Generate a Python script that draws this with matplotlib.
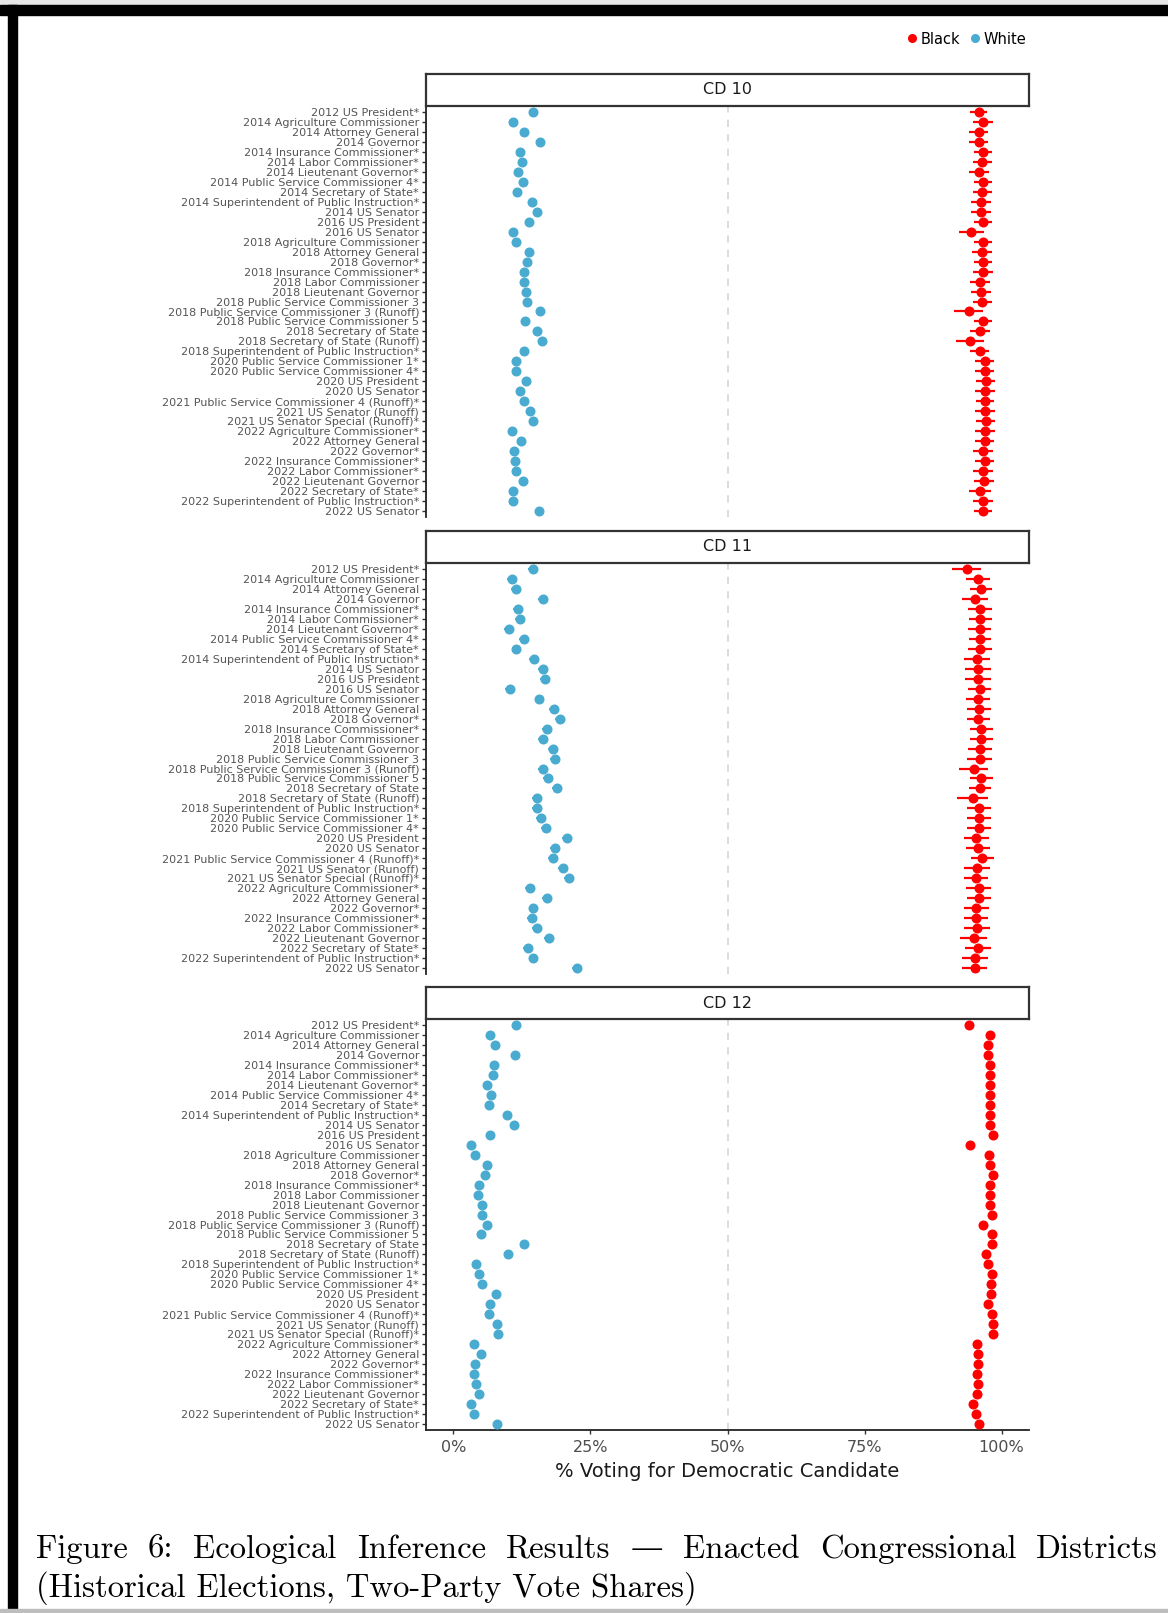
"""Ecological inference results by congressional district (CD 10, 11, 12)."""

import matplotlib

matplotlib.use("Agg")
import matplotlib.pyplot as plt
from matplotlib.lines import Line2D
from matplotlib.patches import Rectangle

W, H = 1168, 1613

elections = [
    "2012 US President*",
    "2014 Agriculture Commissioner",
    "2014 Attorney General",
    "2014 Governor",
    "2014 Insurance Commissioner*",
    "2014 Labor Commissioner*",
    "2014 Lieutenant Governor*",
    "2014 Public Service Commissioner 4*",
    "2014 Secretary of State*",
    "2014 Superintendent of Public Instruction*",
    "2014 US Senator",
    "2016 US President",
    "2016 US Senator",
    "2018 Agriculture Commissioner",
    "2018 Attorney General",
    "2018 Governor*",
    "2018 Insurance Commissioner*",
    "2018 Labor Commissioner",
    "2018 Lieutenant Governor",
    "2018 Public Service Commissioner 3",
    "2018 Public Service Commissioner 3 (Runoff)",
    "2018 Public Service Commissioner 5",
    "2018 Secretary of State",
    "2018 Secretary of State (Runoff)",
    "2018 Superintendent of Public Instruction*",
    "2020 Public Service Commissioner 1*",
    "2020 Public Service Commissioner 4*",
    "2020 US President",
    "2020 US Senator",
    "2021 Public Service Commissioner 4 (Runoff)*",
    "2021 US Senator (Runoff)",
    "2021 US Senator Special (Runoff)*",
    "2022 Agriculture Commissioner*",
    "2022 Attorney General",
    "2022 Governor*",
    "2022 Insurance Commissioner*",
    "2022 Labor Commissioner*",
    "2022 Lieutenant Governor",
    "2022 Secretary of State*",
    "2022 Superintendent of Public Instruction*",
    "2022 US Senator",
]

districts = ["CD 10", "CD 11", "CD 12"]

# % voting for the Democratic candidate, White voters
white_cd10 = [14.5, 10.8, 12.9, 15.8, 12.1, 12.6, 11.7, 12.7, 11.6, 14.3, 15.3, 13.7, 10.9, 11.4,
              13.7, 13.5, 12.9, 12.8, 13.3, 13.4, 15.8, 13.1, 15.2, 16.2, 12.9, 11.4, 11.5, 13.3,
              12.2, 12.8, 13.9, 14.6, 10.6, 12.3, 11.1, 11.2, 11.4, 12.7, 10.9, 10.8, 15.6]
white_cd11 = [14.5, 10.6, 11.4, 16.4, 11.8, 12.1, 10.2, 12.8, 11.5, 14.7, 16.3, 16.7, 10.4, 15.7,
              18.4, 19.4, 17.1, 16.3, 18.1, 18.5, 16.4, 17.3, 18.9, 15.2, 15.2, 16.0, 16.8, 20.8,
              18.5, 18.1, 20.0, 21.1, 14.0, 17.0, 14.6, 14.3, 15.2, 17.5, 13.6, 14.6, 22.6]
white_cd12 = [11.4, 6.7, 7.6, 11.2, 7.4, 7.2, 6.1, 6.9, 6.5, 9.7, 11.0, 6.6, 3.2, 4.0,
              6.1, 5.7, 4.6, 4.5, 5.3, 5.2, 6.1, 5.1, 12.9, 10.0, 4.1, 4.7, 5.2, 7.8,
              6.6, 6.5, 8.0, 8.2, 3.8, 5.0, 4.0, 3.8, 4.2, 4.7, 3.3, 3.8, 8.0]

# % voting for the Democratic candidate, Black voters
black_cd10 = [95.8, 96.6, 95.8, 95.8, 96.6, 96.5, 95.9, 96.6, 96.5, 96.2, 96.3, 96.6, 94.5, 96.6,
              96.4, 96.6, 96.6, 96.0, 96.2, 96.5, 94.0, 96.6, 96.0, 94.2, 96.0, 96.9, 96.9, 97.1,
              97.0, 97.0, 97.0, 97.1, 97.0, 96.9, 96.6, 96.9, 96.6, 96.8, 96.0, 96.6, 96.6]
black_cd11 = [93.6, 95.7, 96.3, 95.1, 96.1, 96.1, 96.0, 96.0, 96.0, 95.5, 95.7, 95.7, 96.0, 95.7,
              95.8, 95.7, 96.3, 96.3, 96.0, 96.0, 94.9, 96.3, 96.0, 94.7, 95.8, 95.8, 95.8, 95.4,
              95.7, 96.5, 95.5, 95.4, 95.8, 95.8, 95.4, 95.4, 95.5, 94.9, 95.7, 95.1, 95.1]
black_cd12 = [94.0, 97.8, 97.6, 97.5, 97.8, 97.8, 97.9, 97.9, 97.8, 97.9, 97.9, 98.4, 94.2, 97.7,
              97.8, 98.5, 97.9, 97.8, 97.8, 98.3, 96.6, 98.2, 98.2, 97.2, 97.6, 98.2, 98.1, 98.1,
              97.5, 98.3, 98.4, 98.4, 95.5, 95.7, 95.7, 95.6, 95.7, 95.5, 94.8, 95.4, 95.8]

# half-width of the interval around each Black estimate
black_err_cd10 = [1.6, 1.8, 1.8, 1.8, 1.7, 1.8, 1.8, 1.7, 1.8, 1.8, 1.8, 1.7, 2.2, 1.7,
                  1.8, 1.7, 1.8, 1.8, 1.8, 1.8, 2.6, 1.7, 1.8, 2.6, 1.7, 1.7, 1.7, 1.7,
                  1.8, 1.7, 1.8, 1.7, 1.8, 1.8, 1.8, 1.8, 1.8, 1.8, 2.0, 1.8, 1.7]
black_err_cd11 = [2.6, 2.2, 2.0, 2.4, 2.2, 2.1, 2.1, 2.0, 2.2, 2.3, 2.3, 2.3, 2.1, 2.2,
                  2.2, 2.1, 2.1, 2.1, 2.2, 2.3, 2.6, 2.1, 2.0, 2.8, 2.2, 2.2, 2.2, 2.3,
                  2.2, 2.1, 2.3, 2.2, 2.3, 2.2, 2.3, 2.2, 2.3, 2.4, 2.3, 2.4, 2.3]
black_err_cd12 = [0.4] * 41
white_err = [0.5, 0.9, 0.4]

caption_line1 = "Figure 6:  Ecological Inference Results \u2014 Enacted Congressional Districts"
caption_line2 = "(Historical Elections, Two-Party Vote Shares)"

white_by_cd = [white_cd10, white_cd11, white_cd12]
black_by_cd = [black_cd10, black_cd11, black_cd12]
black_err_by_cd = [black_err_cd10, black_err_cd11, black_err_cd12]

WHITE_COL = "#4AABD0"
BLACK_COL = "#FF0000"


def rect(x0, y0, x1, y1):
    """Pixel box (top-left origin) to figure fraction."""
    return [x0 / W, 1 - y1 / H, (x1 - x0) / W, (y1 - y0) / H]


fig = plt.figure(figsize=(W / 100, H / 100), dpi=100)
fig.patch.set_facecolor("white")

# page frame of the screenshot
fig.patches.append(Rectangle((0, 1 - 5 / H), 1, 5 / H, transform=fig.transFigure,
                             color="#e6e6e6", zorder=0))
fig.patches.append(Rectangle((0, 1 - 15 / H), 1, 10 / H, transform=fig.transFigure,
                             color="black", zorder=1))
fig.patches.append(Rectangle((8 / W, 0), 9 / W, 1 - 5 / H, transform=fig.transFigure,
                             color="black", zorder=1))
fig.patches.append(Rectangle((0, 0), 1, 4 / H, transform=fig.transFigure,
                             color="#bdbdbd", zorder=1))

x0, x1 = 426, 1029
strip_tops = [74, 531, 987]
strip_h = 32
panel_h = 411
ypos = list(range(len(elections)))

for k, cd in enumerate(districts):
    top = strip_tops[k] + strip_h
    ax = fig.add_axes(rect(x0, top, x1, top + panel_h))
    ax.axvline(50, color="#d9d9d9", lw=1.3, ls=(0, (4, 4)), zorder=1)
    ax.errorbar(white_by_cd[k], ypos, xerr=white_err[k], fmt="o", color=WHITE_COL,
                ms=6.2, lw=1.6, capsize=0, zorder=3)
    ax.errorbar(black_by_cd[k], ypos, xerr=black_err_by_cd[k], fmt="o", color=BLACK_COL,
                ms=6.2, lw=1.6, capsize=0, zorder=3)
    ax.set_xlim(-5, 105)
    ax.set_ylim(len(elections) - 0.4, -0.6)
    ax.set_yticks(ypos)
    ax.set_yticklabels(elections, fontsize=8.0, color="#555555", family="DejaVu Sans")
    ax.tick_params(axis="y", length=3, width=1, color="#333333", pad=2)
    for s in ["top", "right"]:
        ax.spines[s].set_visible(False)
    ax.spines["left"].set_linewidth(1.3)
    ax.spines["left"].set_color("#222222")
    if k < 2:
        ax.spines["bottom"].set_visible(False)
        ax.set_xticks([])
    else:
        ax.spines["bottom"].set_linewidth(1.3)
        ax.spines["bottom"].set_color("#222222")
        ax.set_xticks([0, 25, 50, 75, 100])
        ax.set_xticklabels(["0%", "25%", "50%", "75%", "100%"], fontsize=11.5,
                           color="#4d4d4d")
        ax.tick_params(axis="x", length=3, width=1, color="#333333", pad=4)
        ax.set_xlabel("% Voting for Democratic Candidate", fontsize=14, color="#1a1a1a",
                      labelpad=5)

    # facet strip
    sax = fig.add_axes(rect(x0, strip_tops[k], x1, top))
    sax.set_xticks([])
    sax.set_yticks([])
    for s in sax.spines.values():
        s.set_linewidth(1.6)
        s.set_color("#333333")
    sax.text(0.5, 0.5, cd, ha="center", va="center", fontsize=11.5, color="#1a1a1a",
             transform=sax.transAxes)

handles = [
    Line2D([], [], marker="o", ls="", color=BLACK_COL, ms=5.5, label="Black"),
    Line2D([], [], marker="o", ls="", color=WHITE_COL, ms=5.5, label="White"),
]
fig.legend(handles=handles, loc="center right", bbox_to_anchor=(1026 / W, 1 - 39 / H),
           ncol=2, frameon=False, fontsize=10.5, handlelength=0.8, handletextpad=0.2,
           columnspacing=0.6, borderaxespad=0, borderpad=0)

# caption: first line justified between the page margins like the LaTeX source
cap_font = ["cmr10", "DejaVu Serif"]
cap_size = 23.5
left_px, right_px = 36, 1158
renderer = fig.canvas.get_renderer()
words = caption_line1.split()
texts = [fig.text(0, 1 - 1549 / H, w, fontsize=cap_size, family=cap_font, va="center",
                  ha="left") for w in words]
widths = [t.get_window_extent(renderer).width for t in texts]
gap = (right_px - left_px - sum(widths)) / (len(words) - 1)
xpos = left_px
for t, w in zip(texts, widths):
    t.set_x(xpos / W)
    xpos += w + gap
fig.text(left_px / W, 1 - 1588 / H, caption_line2, fontsize=cap_size, family=cap_font,
         va="center", ha="left")

fig.savefig("out.png", dpi=100)
